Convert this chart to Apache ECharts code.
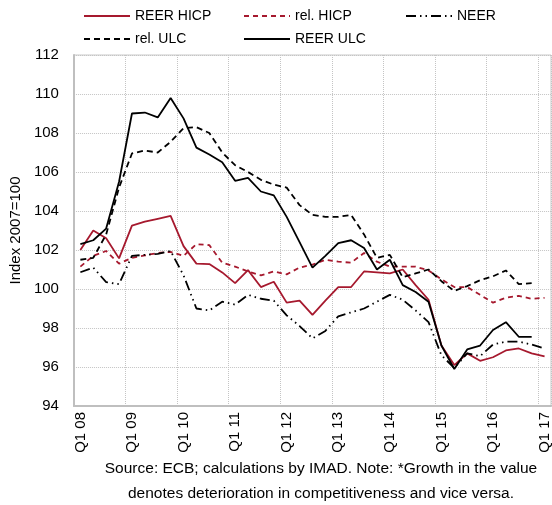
<!DOCTYPE html>
<html>
<head>
<meta charset="utf-8">
<script src="https://cdn.jsdelivr.net/npm/echarts@6/dist/echarts.min.js"></script>
<style>
  html, body { margin: 0; padding: 0; background: #fff; }
  #main { width: 552px; height: 505px; }
</style>
</head>
<body>
<div id="main"></div>
<script>
// quarters Q1 08 .. Q1 17
var quarters = [];
for (var y = 8; y <= 17; y++) {
  for (var q = 1; q <= 4; q++) {
    if (y === 17 && q > 1) break;
    quarters.push('Q' + q + ' ' + (y < 10 ? '0' + y : y));
  }
}

var reerHicp = [102.0, 103.0, 102.6, 101.57, 103.25, 103.45, 103.6, 103.75, 102.2, 101.3,
  101.28, 100.85, 100.3, 100.97, 100.1, 100.37, 99.3, 99.4, 98.67, 99.4,
  100.1, 100.1, 100.9, 100.85, 100.8, 101.0, 100.2, 99.45, 97.1, 96.1,
  96.7, 96.32, 96.5, 96.85, 96.95, 96.7, 96.55];
var relHicp = [101.15, 101.7, 101.95, 101.3, 101.6, 101.72, 101.85, 101.9, 101.7, 102.3,
  102.25, 101.35, 101.15, 100.9, 100.7, 100.9, 100.75, 101.1, 101.25, 101.5,
  101.4, 101.35, 101.85, 101.4, 101.15, 101.15, 101.15, 100.95, 100.5, 100.1,
  100.1, 99.7, 99.3, 99.55, 99.65, 99.5, 99.55];
var neer = [100.86, 101.1, 100.35, 100.25, 101.7, 101.75, 101.8, 101.95, 100.7, 99.0,
  98.9, 99.35, 99.2, 99.7, 99.5, 99.4, 98.65, 98.1, 97.47, 97.85,
  98.6, 98.8, 99.0, 99.35, 99.7, 99.45, 98.9, 98.3, 96.6, 95.95,
  96.7, 96.56, 97.15, 97.3, 97.3, 97.15, 96.95];
var relUlc = [101.5, 101.6, 102.8, 105.2, 106.95, 107.1, 107.0, 107.55, 108.25, 108.3,
  108.0, 107.0, 106.35, 106.0, 105.6, 105.35, 105.2, 104.3, 103.8, 103.7,
  103.7, 103.8, 102.8, 101.6, 101.75, 100.6, 100.8, 101.0, 100.4, 99.9,
  100.15, 100.45, 100.65, 100.95, 100.25, 100.3, null];
var reerUlc = [102.3, 102.5, 103.1, 105.5, 109.0, 109.05, 108.8, 109.8, 108.75, 107.25,
  106.9, 106.5, 105.55, 105.7, 105.0, 104.8, 103.7, 102.4, 101.1, 101.7,
  102.35, 102.5, 102.1, 101.0, 101.5, 100.2, 99.85, 99.35, 97.1, 95.9,
  96.9, 97.1, 97.9, 98.3, 97.55, 97.55, null];

var red = '#a6192e';
var fontName = 'Liberation Sans';

function legendFor(name, left, top) {
  return {
    data: [name],
    left: left,
    top: top,
    padding: 0,
    itemWidth: 46,
    itemHeight: 14,
    itemStyle: { opacity: 0 },
    textStyle: { fontFamily: fontName, fontSize: 14, color: '#000' }
  };
}

function line(name, data, color, type, width) {
  return {
    name: name,
    type: 'line',
    data: data,
    symbol: 'none',
    connectNulls: false,
    lineStyle: { color: color, type: type, width: width },
    itemStyle: { color: color }
  };
}

var chart = echarts.init(document.getElementById('main'));

var option = {
  animation: false,
  legend: [
    legendFor('REER HICP', 83, 9),
    legendFor('rel. HICP', 243, 9),
    legendFor('NEER', 405, 9),
    legendFor('rel. ULC', 83, 32),
    legendFor('REER ULC', 243, 32)
  ],
  grid: {
    left: 70, right: 0, top: 55, bottom: 99,
    show: true, borderColor: '#c8c8c8', borderWidth: 1
  },
  xAxis: {
    type: 'category',
    data: quarters,
    boundaryGap: true,
    axisLine: { lineStyle: { color: '#bfbfbf', width: 2 } },
    axisTick: { show: false },
    axisLabel: {
      interval: 3, rotate: 90, margin: 6,
      fontFamily: fontName, fontSize: 15, color: '#000'
    },
    splitLine: {
      show: true, interval: 3,
      lineStyle: { color: '#c4c4c4', type: 'dotted', width: 1 }
    }
  },
  yAxis: {
    type: 'value',
    min: 94, max: 112, interval: 2,
    name: 'Index 2007=100',
    nameLocation: 'middle',
    nameGap: 46,
    nameTextStyle: { fontFamily: fontName, fontSize: 15, color: '#000' },
    axisLine: { show: true, lineStyle: { color: '#bfbfbf', width: 2 } },
    axisTick: { show: false },
    axisLabel: { margin: 15, fontFamily: fontName, fontSize: 15, color: '#000' },
    splitLine: { lineStyle: { color: '#c4c4c4', type: 'dotted', width: 1 } }
  },
  graphic: [
    {
      type: 'text', x: 321, y: 456,
      style: {
        text: 'Source: ECB; calculations by IMAD. Note: *Growth in the value\ndenotes deterioration in competitiveness and vice versa.',
        align: 'center', lineHeight: 25,
        font: '15.5px "Liberation Sans"', fill: '#000'
      }
    }
  ],
  series: [
    line('REER HICP', reerHicp, red, 'solid', 1.8),
    line('rel. HICP', relHicp, red, [5, 4], 1.8),
    line('NEER', neer, '#000', [10, 4, 1.5, 4, 1.5, 4], 1.8),
    line('rel. ULC', relUlc, '#000', [6, 4], 1.8),
    line('REER ULC', reerUlc, '#000', 'solid', 1.8)
  ]
};

chart.setOption(option);
</script>
</body>
</html>
